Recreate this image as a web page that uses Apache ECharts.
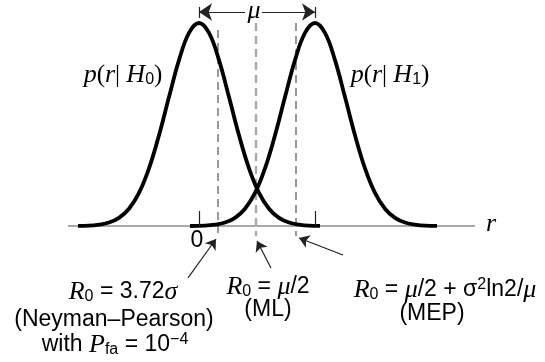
<!DOCTYPE html>
<html>
<head>
<meta charset="utf-8">
<script src="https://cdn.jsdelivr.net/npm/echarts@6/dist/echarts.min.js"></script>
<style>
    html, body { margin: 0; padding: 0; background: #fff; }
    #main { width: 545px; height: 362px; }
</style>
</head>
<body>
<div id="main"></div>
<script>
    // r positions (H0 mean = 0, H1 mean = mu = 116) and curve heights (peak = 1)
    const h0R = [-121, -110, -100, -90, -80, -70, -60, -50, -40, -30, -20, -10, 0, 10, 20, 30, 40, 50, 60, 70, 80, 90, 100, 110, 121];
    const h0P = [0.001, 0.002, 0.007, 0.017, 0.040, 0.085, 0.163, 0.284, 0.447, 0.635, 0.817, 0.951, 1, 0.951, 0.817, 0.635, 0.447, 0.284, 0.163, 0.085, 0.040, 0.017, 0.007, 0.002, 0.001];
    const h1R = [-9, 6, 16, 26, 36, 46, 56, 66, 76, 86, 96, 106, 116, 126, 136, 146, 156, 166, 176, 186, 196, 206, 216, 226, 238];
    const h1P = [0.000, 0.002, 0.007, 0.017, 0.040, 0.085, 0.163, 0.284, 0.447, 0.635, 0.817, 0.951, 1, 0.951, 0.817, 0.635, 0.447, 0.284, 0.163, 0.085, 0.040, 0.017, 0.007, 0.002, 0.001];
    const means = [0, 116];
    // thresholds: Neyman-Pearson, ML, MEP
    const thresholds = [19, 57, 97];
    const axisRange = [-131, 276];
    const tickLabels = ['0'];

    const zip = (xs, ys) => xs.map((x, i) => [x, ys[i]]);

    const rich = {
        i: {fontFamily: 'Liberation Serif', fontStyle: 'italic', fontSize: 26, lineHeight: 26, verticalAlign: 'middle', color: '#111'},
        p: {fontFamily: 'Liberation Serif', fontSize: 25, lineHeight: 26, verticalAlign: 'middle', color: '#111'},
        t: {fontFamily: 'Liberation Sans', fontSize: 23, lineHeight: 26, verticalAlign: 'middle', color: '#111'},
        sub: {fontFamily: 'Liberation Sans', fontSize: 16, lineHeight: 11, verticalAlign: 'bottom', color: '#111'},
        sup: {fontFamily: 'Liberation Sans', fontSize: 16, lineHeight: 13, verticalAlign: 'top', color: '#111'}
    };

    function label(x, y, text) {
        return {
            type: 'text', x: x, y: y, silent: true,
            style: {text: text, rich: rich, align: 'center', verticalAlign: 'middle'}
        };
    }

    function dashed(x, top, bottom, color, width, dash) {
        return {
            type: 'line', data: [[x, top], [x, bottom]], showSymbol: false, silent: true,
            lineStyle: {color: color, width: width, type: dash}, z: 1
        };
    }

    const arrowLine = {color: '#222', width: 1.2, type: 'solid'};

    const option = {
        animation: false,
        grid: {left: 0, right: 0, top: 0, bottom: 0, outerBoundsMode: 'none', containLabel: false},
        xAxis: {
            type: 'value', min: -199, max: 346, show: false,
            splitLine: {show: false}
        },
        yAxis: {type: 'value', min: -0.67, max: 1.1133, show: false},
        series: [
            {
                // r axis line with the two mean ticks
                type: 'line', data: [[axisRange[0], 0], [axisRange[1], 0]], showSymbol: false, silent: true,
                lineStyle: {color: '#8c8c8c', width: 1.5}, z: 1,
                markLine: {
                    silent: true, symbol: 'none', label: {show: false}, animation: false,
                    lineStyle: arrowLine,
                    data: [
                        [{coord: [means[0], 0]}, {coord: [means[0], 0.074]}],
                        [{coord: [means[1], 0]}, {coord: [means[1], 0.074]}],
                        [{coord: [means[0], 1.079]}, {coord: [means[0], 1.025]}],
                        [{coord: [means[1], 1.079]}, {coord: [means[1], 1.025]}]
                    ]
                }
            },
            {
                type: 'line', data: zip(h0R, h0P), smooth: 0.4, showSymbol: false, silent: true,
                lineStyle: {color: '#000', width: 3.8}, z: 3,
                markLine: {
                    silent: true, symbol: ['none', 'arrow'], symbolSize: 10, label: {show: false},
                    lineStyle: arrowLine, animation: false,
                    data: [
                        [{coord: [-11, -0.256]}, {coord: [17, -0.064]}],
                        [{coord: [72, -0.207]}, {coord: [58, -0.074]}],
                        [{coord: [144, -0.143]}, {coord: [100, -0.059]}]
                    ]
                }
            },
            {
                type: 'line', data: zip(h1R, h1P), smooth: 0.4, showSymbol: false, silent: true,
                lineStyle: {color: '#000', width: 3.8}, z: 3,
                markLine: {
                    silent: true, symbol: ['none', 'arrow'], symbolSize: 13, label: {show: false},
                    lineStyle: arrowLine, animation: false,
                    data: [
                        [{coord: [46, 1.054]}, {coord: [means[0], 1.054]}],
                        [{coord: [63, 1.054]}, {coord: [means[1], 1.054]}]
                    ]
                }
            },
            dashed(thresholds[0], 0.966, -0.04, '#555', 1.2, [8, 5]),
            dashed(thresholds[1], 1.0, -0.05, '#aaa', 2.4, [8, 5]),
            dashed(thresholds[2], 1.0, -0.05, '#555', 1.2, [8, 5])
        ],
        graphic: [
            label(123, 75, '{i|p}{p|(}{i|r}{p|| }{i|H}{sub|0}{p|)}'),
            label(390, 75, '{i|p}{p|(}{i|r}{p|| }{i|H}{sub|1}{p|)}'),
            label(254, 11, '{i|μ}'),
            label(491, 224, '{i|r}'),
            label(197, 241, '{t|' + tickLabels[0] + '}'),
            label(123, 292, '{i|R}{sub|0}{t| = 3.72}{i|σ}'),
            label(114, 320, '{t|(Neyman–Pearson)}'),
            label(115, 345, '{t|with }{i|P}{sub|fa}{t| = 10}{sup|−4}'),
            label(268, 287, '{i|R}{sub|0}{t| = }{i|μ}{t|/2}'),
            label(268, 310, '{t|(ML)}'),
            label(445, 290, '{i|R}{sub|0}{t| = }{i|μ}{t|/2 + σ}{sup|2}{t|ln2/}{i|μ}'),
            label(432, 314, '{t|(MEP)}')
        ]
    };

    const chart = echarts.init(document.getElementById('main'));
    chart.setOption(option);
</script>
</body>
</html>
